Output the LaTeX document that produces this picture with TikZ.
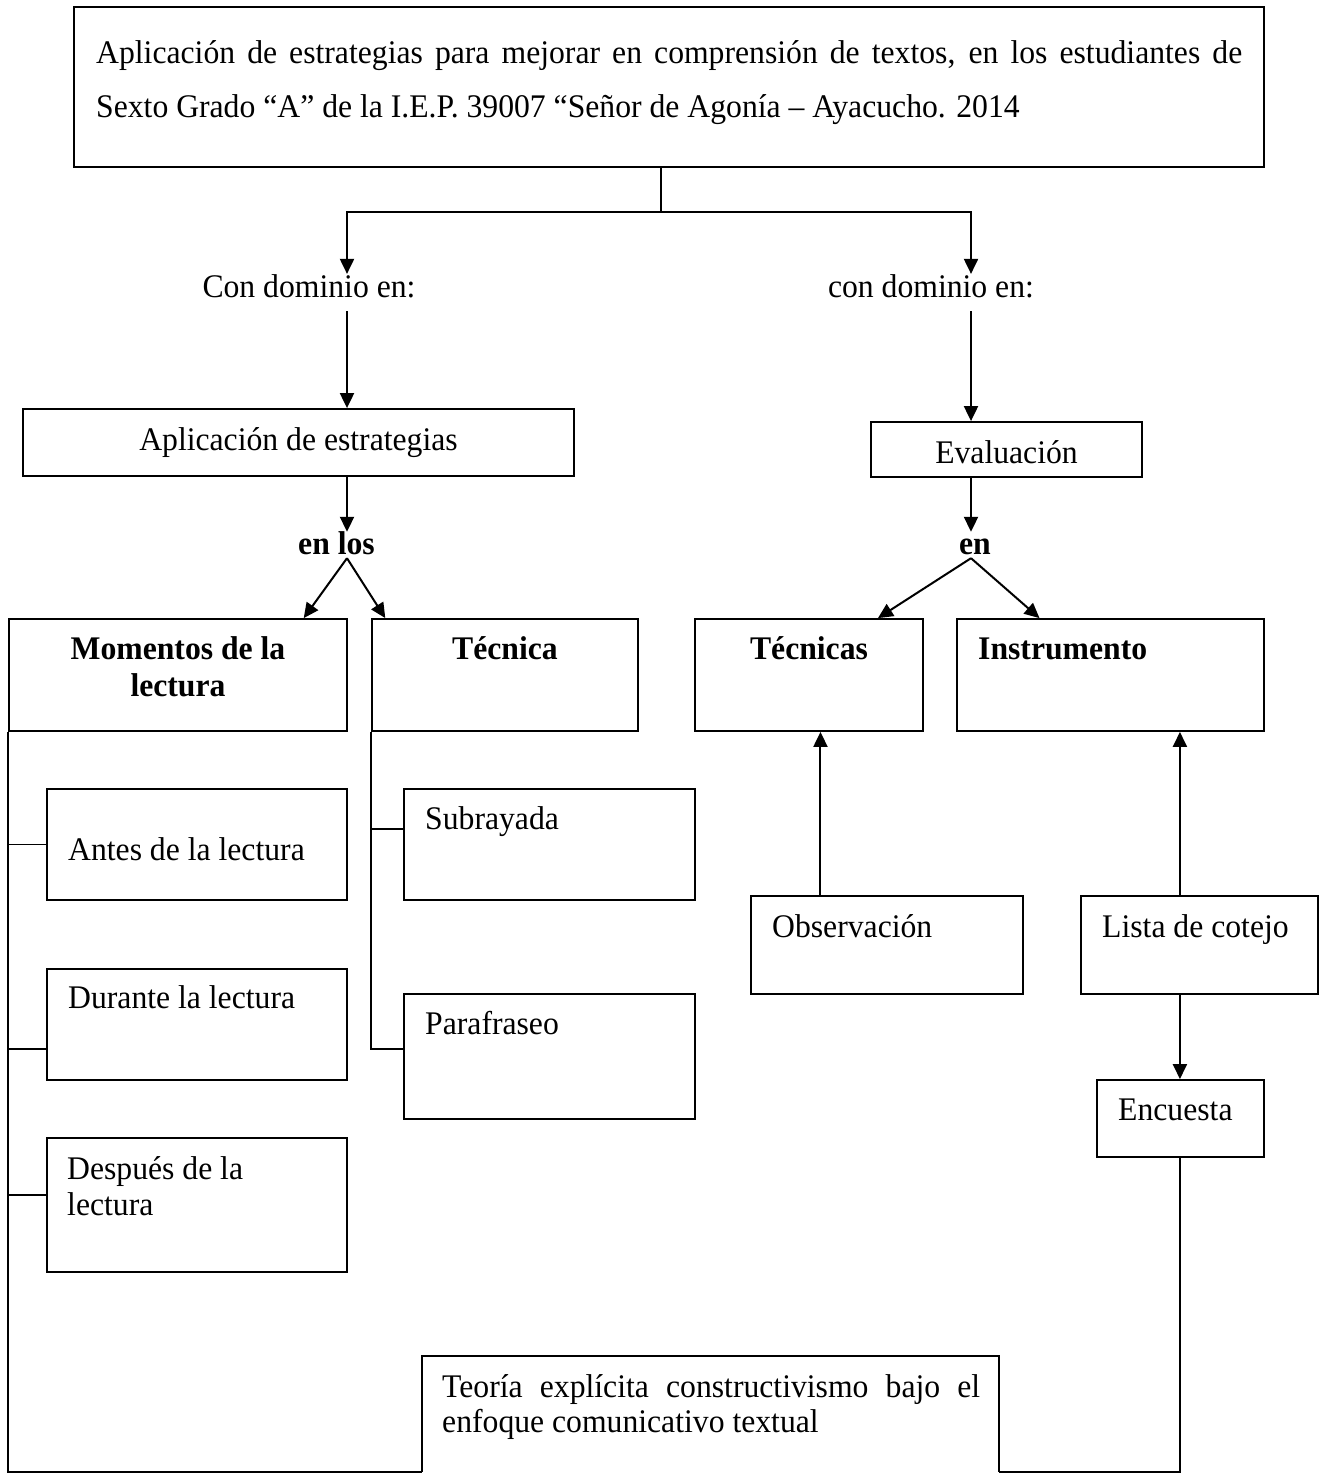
\documentclass[tikz,border=0pt]{standalone}
\usepackage{fontspec}
\setmainfont{Liberation Serif}[FakeStretch=0.96]
\usetikzlibrary{arrows.meta,fit,calc}
\begin{document}
\begin{tikzpicture}[x=1pt,y=-1pt,
  bx/.style={draw, line width=1.8pt, inner sep=0pt},
  fr/.style={inner sep=0pt},
  ln/.style={line width=1.8pt},
  arr/.style={line width=2pt, -{Triangle[length=15pt,width=14pt]}},
  txt/.style={inner sep=0pt, font=\fontsize{33}{38}\selectfont},
  btxt/.style={inner sep=0pt, font=\fontsize{33}{38}\selectfont\bfseries},
  lab/.style={btxt, text height=22pt, text depth=4pt}]
\useasboundingbox[fill=white] (0,0) rectangle (1322,1474);

% ---------- boxes ----------
\node[bx, fit={(74,7)(1264,167)}] (title) {};
\node[bx, fit={(23,409)(574,476)}] (apl) {};
\node[bx, fit={(871,422)(1142,477)}] (eva) {};
\node[bx, fit={(9,619)(347,731)}] (mom) {};
\node[bx, fit={(372,619)(638,731)}] (tec) {};
\node[bx, fit={(695,619)(923,731)}] (tcs) {};
\node[bx, fit={(957,619)(1264,731)}] (ins) {};
\node[bx, fit={(47,789)(347,900)}] (antes) {};
\node[bx, fit={(47,969)(347,1080)}] (dur) {};
\node[bx, fit={(47,1138)(347,1272)}] (desp) {};
\node[bx, fit={(404,789)(695,900)}] (sub) {};
\node[bx, fit={(404,994)(695,1119)}] (para) {};
\node[bx, fit={(751,896)(1023,994)}] (obs) {};
\node[bx, fit={(1081,896)(1318,994)}] (lista) {};
\node[bx, fit={(1097,1080)(1264,1157)}] (enc) {};
\node[fr, fit={(422,1356)(999,1472)}] (teo) {};
\draw[ln] (teo.south west) -- (teo.north west) -- (teo.north east) -- (teo.south east);

% ---------- texts ----------
\node[txt, anchor=base west] (t1) at (96,64) {\makebox[1146pt][s]{Aplicación de estrategias para mejorar en comprensión de textos, en los estudiantes de}};
\node[txt, anchor=base west] (t2) at (96,118) {Sexto Grado “A” de la I.E.P. 39007 “Señor de Agonía – Ayacucho. 2014};
\node[txt, anchor=base] (cd1) at (309,297) {Con dominio en:};
\node[txt, anchor=base] (cd2) at (931,297) {con dominio en:};
\node[txt, anchor=base] (aplt) at (298.5,450) {Aplicación de estrategias};
\node[txt, anchor=base] (evat) at (1006.5,463) {Evaluación};
\node[lab, anchor=base] (enlos) at (336.5,554) {en los};
\node[lab, anchor=base] (en) at (975,554) {en};
\node[btxt, anchor=base] (momt1) at (178,659) {Momentos de la};
\node[btxt, anchor=base] (momt2) at (178,696) {lectura};
\node[btxt, anchor=base] (tect) at (505,659) {Técnica};
\node[btxt, anchor=base] (tcst) at (809,659) {Técnicas};
\node[btxt, anchor=base west] (inst) at (978,659) {Instrumento};
\node[txt, anchor=base west] (antest) at (68,860) {Antes de la lectura};
\node[txt, anchor=base west] (durt) at (68,1008) {Durante la lectura};
\node[txt, anchor=base west] (despt1) at (67,1179) {Después de la};
\node[txt, anchor=base west] (despt2) at (67,1215) {lectura};
\node[txt, anchor=base west] (subt) at (425,829) {Subrayada};
\node[txt, anchor=base west] (parat) at (425,1034) {Parafraseo};
\node[txt, anchor=base west] (obst) at (772,937) {Observación};
\node[txt, anchor=base west] (listat) at (1102,937) {Lista de cotejo};
\node[txt, anchor=base west] (enct) at (1118,1120) {Encuesta};
\node[txt, anchor=base west] (teot1) at (442,1397) {\makebox[538pt][s]{Teoría explícita constructivismo bajo el}};
\node[txt, anchor=base west] (teot2) at (442,1432) {enfoque comunicativo textual};

% ---------- connectors ----------
\coordinate (jn) at (661,212);
\coordinate (xL) at (347,311);
\coordinate (xR) at (971,311);
\draw[ln] (title.south -| jn) -- (jn);
\draw[arr] (jn) -| (cd1.north -| xL);
\draw[arr] (jn) -| (cd2.north -| xR);
\draw[arr] (xL) -- (apl.north -| xL);
\draw[arr] (xR) -- (eva.north -| xR);
\draw[arr] (apl.south -| xL) -- (enlos.north -| xL);
\draw[arr] (eva.south -| xR) -- (en.north -| xR);
\draw[arr] (enlos.south -| xL) -- ($(mom.north west)!0.87!(mom.north east)$);
\draw[arr] (enlos.south -| xL) -- ($(tec.north west)!0.053!(tec.north east)$);
\draw[arr] (en.south -| xR) -- ($(tcs.north west)!0.80!(tcs.north east)$);
\draw[arr] (en.south -| xR) -- ($(ins.north west)!0.27!(ins.north east)$);

% left branch lines
\draw[ln] (mom.south west) |- (teo.south west);
\draw[ln] (antes.west) -- (antes.west -| mom.west);
\draw[ln] ($(dur.south west)!0.28!(dur.north west)$) coordinate (d1) -- (d1 -| mom.west);
\draw[ln] ($(desp.south west)!0.575!(desp.north west)$) coordinate (d2) -- (d2 -| mom.west);
\draw[ln] (tec.south west) |- ($(para.north west)!0.44!(para.south west)$);
\draw[ln] ($(sub.north west)!0.36!(sub.south west)$) coordinate (s1) -- (s1 -| tec.west);

% evaluation side
\draw[arr] ($(obs.north west)!0.257!(obs.north east)$) coordinate (o1) -- (o1 |- tcs.south);
\draw[arr] ($(lista.north west)!0.418!(lista.north east)$) coordinate (l1) -- (l1 |- ins.south);
\draw[arr] (l1 |- lista.south) -- (l1 |- enc.north);
\draw[ln] (l1 |- enc.south) |- (teo.south east);
\end{tikzpicture}
\end{document}
